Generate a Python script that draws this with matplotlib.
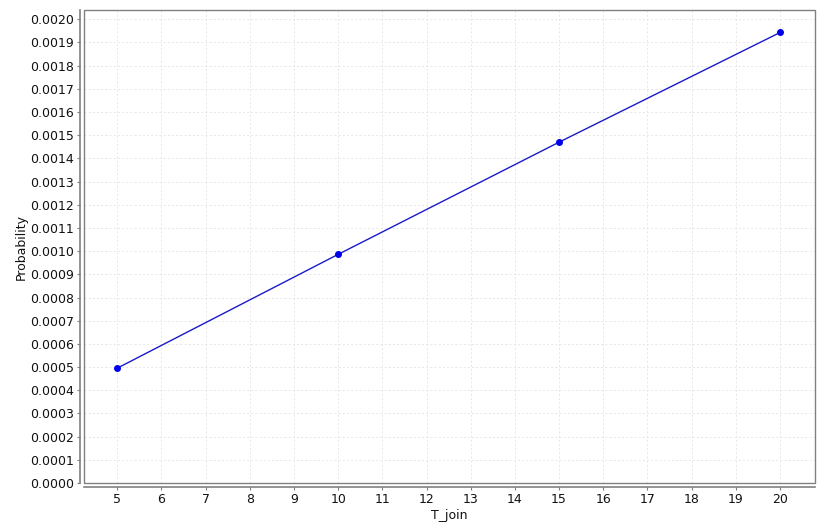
import matplotlib.pyplot as plt
from matplotlib.patches import Rectangle
from matplotlib.ticker import MultipleLocator, FormatStrFormatter

t_join = [5, 10, 15, 20]
probability = [0.000495, 0.000986, 0.001470, 0.001943]

def main():
	fig = plt.figure(figsize=(8.26, 5.30), dpi=100)
	ax = fig.add_axes([84/826, 47/530, 731/826, 473/530])

	ax.plot(t_join, probability, color="#1a1acc", linewidth=1.0,
		marker="o", markersize=4, markerfacecolor="#0000ee", markeredgecolor="#0000ee")

	ax.set_xlim(4.25, 20.79)
	ax.set_ylim(0, 0.00204)
	ax.xaxis.set_major_locator(MultipleLocator(1))
	ax.yaxis.set_major_locator(MultipleLocator(0.0001))
	ax.yaxis.set_major_formatter(FormatStrFormatter("%.4f"))

	ax.grid(True, color="#e4e4e4", linestyle=(0, (2.5, 2.5)), linewidth=0.6)
	ax.set_axisbelow(True)

	# plot box plus offset axis lines
	for s in ("top", "right"):
		ax.spines[s].set_visible(False)
	for s in ("left", "bottom"):
		ax.spines[s].set_position(("outward", 3))
		ax.spines[s].set_color("#808080")
		ax.spines[s].set_linewidth(1.2)
	ax.add_patch(Rectangle((0, 0), 1, 1, transform=ax.transAxes, fill=False,
		edgecolor="#808080", linewidth=1.0, clip_on=False, zorder=3))

	ax.tick_params(length=2, width=0.8, color="#808080", labelsize=9, pad=2, labelcolor="#111111")
	ax.set_xlabel("T_join", fontsize=9, color="#111111", labelpad=2)
	ax.set_ylabel("Probability", fontsize=9, color="#111111", labelpad=2)

	fig.savefig("out.png", dpi=100)

if __name__ == '__main__':
	main()
